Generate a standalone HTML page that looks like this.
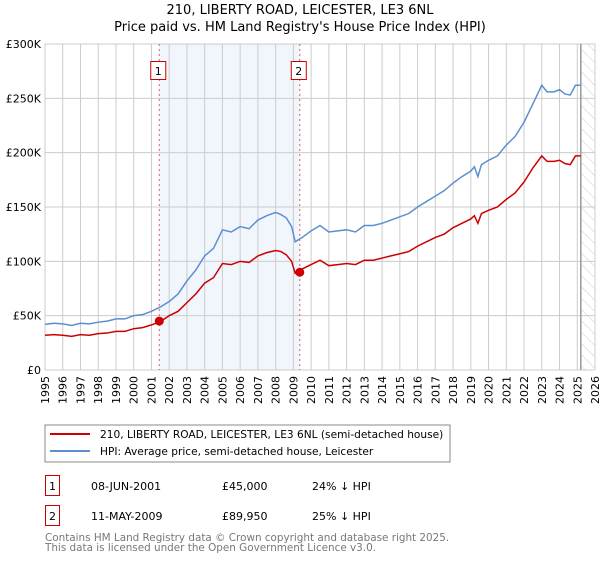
<!DOCTYPE html>
<html><head><meta charset="utf-8"><style>
body{margin:0;background:#fff;font-family:"DejaVu Sans","Liberation Sans",sans-serif;}
svg text{font-family:"DejaVu Sans","Liberation Sans",sans-serif;}
</style></head><body>
<svg width="600" height="560" id="c" xmlns="http://www.w3.org/2000/svg">
<defs><pattern id="hatch" width="8" height="8" patternUnits="userSpaceOnUse" patternTransform="rotate(-45)"><line x1="0" y1="0" x2="0" y2="8" stroke="#ccc" stroke-width="1"/></pattern></defs>
<text x="300" y="14" text-anchor="middle" font-size="13">210, LIBERTY ROAD, LEICESTER, LE3 6NL</text>
<text x="300" y="31" text-anchor="middle" font-size="13">Price paid vs. HM Land Registry's House Price Index (HPI)</text>
<g id="plot"></g>
<rect x="45" y="425" width="405" height="37" fill="#fff" stroke="#888"/>
<line x1="50" y1="434" x2="90" y2="434" stroke="#cc0000" stroke-width="2"/>
<text x="100" y="438" font-size="10.6">210, LIBERTY ROAD, LEICESTER, LE3 6NL (semi-detached house)</text>
<line x1="50" y1="451" x2="90" y2="451" stroke="#5b8fd0" stroke-width="2"/>
<text x="100" y="455" font-size="10.6">HPI: Average price, semi-detached house, Leicester</text>
<g>
<rect x="45.5" y="475.5" width="14" height="20" fill="none" stroke="#cc0000"/>
<text x="52.5" y="490" text-anchor="middle" font-size="11">1</text>
<text x="91" y="490" font-size="11">08-JUN-2001</text>
<text x="222" y="490" font-size="11">£45,000</text>
<text x="312" y="490" font-size="11">24% ↓ HPI</text></g>
<g>
<rect x="45.5" y="505.5" width="14" height="20" fill="none" stroke="#cc0000"/>
<text x="52.5" y="520" text-anchor="middle" font-size="11">2</text>
<text x="91" y="520" font-size="11">11-MAY-2009</text>
<text x="222" y="520" font-size="11">£89,950</text>
<text x="312" y="520" font-size="11">25% ↓ HPI</text></g>
<text x="45" y="541" font-size="10.4" fill="#777">Contains HM Land Registry data © Crown copyright and database right 2025.</text>
<text x="45" y="551" font-size="10.4" fill="#777">This data is licensed under the Open Government Licence v3.0.</text>
</svg>
<script>
const hpiYears=[1995,1995.5,1996,1996.5,1997,1997.5,1998,1998.5,1999,1999.5,2000,2000.5,2001,2001.5,2002,2002.5,2003,2003.5,2004,2004.5,2005,2005.5,2006,2006.5,2007,2007.5,2008,2008.3,2008.6,2008.9,2009.1,2009.5,2010,2010.5,2011,2011.5,2012,2012.5,2013,2013.5,2014,2014.5,2015,2015.5,2016,2016.5,2017,2017.5,2018,2018.5,2019,2019.2,2019.4,2019.6,2020,2020.5,2021,2021.5,2022,2022.5,2023,2023.3,2023.7,2024,2024.3,2024.6,2024.9,2025.2];
const hpiValues=[42,43,42.5,41,43,42.5,44,45,47,47,50,51,54,58,63,70,82,92,105,112,129,127,132,130,138,142,145,143,140,132,118,122,128,133,127,128,129,127,133,133,135,138,141,144,150,155,160,165,172,178,183,187,178,189,193,197,207,215,228,245,262,256,256,258,254,253,262,262];
const priceYears=hpiYears;
const priceValues=[32,32.5,32,31,32.5,32,33.5,34,35.5,35.5,38,39,41.5,44.5,50,54,62,70,80,85,98,97,100,99,105,108,110,109,106,100,89,93,97,101,96,97,98,97,101,101,103,105,107,109,114,118,122,125,131,135,139,142,135,144,147,150,157,163,173,186,197,192,192,193,190,189,197,197];
const yTicks=[0,50,100,150,200,250,300];
const yTickLabels=["£0","£50K","£100K","£150K","£200K","£250K","£300K"];
const xTicks=[1995,1996,1997,1998,1999,2000,2001,2002,2003,2004,2005,2006,2007,2008,2009,2010,2011,2012,2013,2014,2015,2016,2017,2018,2019,2020,2021,2022,2023,2024,2025,2026];
const saleYears=[2001.44,2009.36];
const saleValues=[45,89.95];
const saleLabels=["1","2"];
const forecastStart=2025.2;

const L=45,R=595,T=44,B=370;
const X=y=>L+(y-1995)/(2026-1995)*(R-L);
const Y=v=>B-v/300*(B-T);
const NS="http://www.w3.org/2000/svg";
const g=document.getElementById('plot');
function mk(tag,attrs){const e=document.createElementNS(NS,tag);for(const k in attrs)e.setAttribute(k,attrs[k]);g.appendChild(e);return e;}
let e;
e=mk('rect',{x:X(saleYears[0]),y:T,width:X(saleYears[1])-X(saleYears[0]),height:B-T,fill:'#f0f4fc',opacity:0.9});


e=mk('rect',{x:X(forecastStart),y:T,width:R-X(forecastStart),height:B-T,fill:'url(#hatch)'});


xTicks.forEach(t=>{e=mk('line',{x1:X(t),x2:X(t),y1:T,y2:B,stroke:'#ccc'});


e=mk('text',{x:0,y:0,'font-size':11,'text-anchor':'end',transform:`translate(${X(t)+4},${B+6}) rotate(-90)`});e.textContent=t;

});
yTicks.forEach((t,i)=>{e=mk('line',{x1:L,x2:R,y1:Y(t),y2:Y(t),stroke:'#ccc'});


e=mk('text',{x:L-4,y:Y(t)+4,'font-size':11,'text-anchor':'end'});e.textContent=yTickLabels[i];

});
e=mk('line',{x1:X(forecastStart),x2:X(forecastStart),y1:T,y2:B,stroke:'#999','stroke-width':1.5});


saleYears.forEach((s,i)=>{e=mk('line',{x1:X(s),x2:X(s),y1:T,y2:B,stroke:'#e06060','stroke-dasharray':'2,3'});


e=mk('rect',{x:X(s)-8.5,y:61.5,width:15,height:18,fill:'#fff',stroke:'#cc0000'});


e=mk('text',{x:X(s)-1,y:75,'font-size':11,'text-anchor':'middle'});e.textContent=saleLabels[i];

});
e=mk('polyline',{points:hpiYears.map((y,i)=>X(y)+','+Y(hpiValues[i])).join(' '),fill:'none',stroke:'#5b8fd0','stroke-width':1.5});


e=mk('polyline',{points:priceYears.map((y,i)=>X(y)+','+Y(priceValues[i])).join(' '),fill:'none',stroke:'#cc0000','stroke-width':1.5});


saleYears.forEach((s,i)=>{e=mk('circle',{cx:X(s),cy:Y(saleValues[i]),r:4.5,fill:'#cc0000'});

});
</script>
</body></html>
